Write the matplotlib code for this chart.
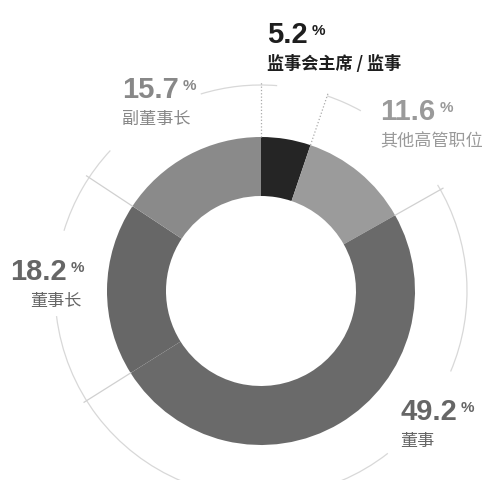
import matplotlib.pyplot as plt
import numpy as np
from matplotlib.patches import Arc

# Shares, clockwise from the top
values = [5.2, 11.6, 49.2, 18.2, 15.7]
numbers = ["5.2", "11.6", "49.2", "18.2", "15.7"]
names = ["监事会主席 / 监事", "其他高管职位", "董事", "董事长", "副董事长"]
colors = ["#252525", "#9b9b9b", "#6a6a6a", "#676767", "#8a8a8a"]
text_colors = ["#1e1e1e", "#9a9a9a", "#666666", "#666666", "#888888"]

W, H = 486, 480
cx, cy = 261, H - 291  # donut centre (pixels, y up)
r_out, r_in = 154, 95
r_arc = 206

fig = plt.figure(figsize=(W / 100, H / 100), dpi=100)
ax = fig.add_axes([0, 0, 1, 1])
ax.set_xlim(0, W)
ax.set_ylim(0, H)
ax.set_aspect("equal")
ax.axis("off")

ax.pie(values, colors=colors, startangle=90, counterclock=False,
       center=(cx, cy), radius=r_out,
       wedgeprops=dict(width=r_out - r_in, linewidth=0))
ax.set_xlim(0, W)
ax.set_ylim(0, H)

# thin guide arc around the donut, broken where the labels sit
# (angles clockwise from the top)
arc_pieces = [(-17, 4.5), (18.7, 29), (59, 113), (142, 263), (287, 313)]
for a1, a2 in arc_pieces:
    ax.add_patch(Arc((cx, cy), 2 * r_arc, 2 * r_arc, theta1=90 - a2, theta2=90 - a1,
                     color="#d8d8d8", lw=0.9))

# radial ticks at the slice boundaries
bounds = np.concatenate([[0], np.cumsum(values)[:-1]]) / sum(values) * 360
for i, b in enumerate(bounds):
    t = np.radians(90 - b)
    ls = ":" if i < 2 else "-"
    col = "#aaaaaa" if i < 2 else "#d0d0d0"
    ax.plot([cx + r_out * np.cos(t), cx + (r_arc + 3) * np.cos(t)],
            [cy + r_out * np.sin(t), cy + (r_arc + 3) * np.sin(t)],
            color=col, lw=0.9, ls=ls)

# label anchors: (x, number baseline, name baseline, name alignment, name x)
label_pos = [
    (267, 43, 69, "left", 267),
    (380, 120, 146, "left", 380),
    (400, 420, 446, "left", 400),
    (10, 280, 306, "right", 81),
    (122, 98, 124, "left", 122),
]

for i, (x, yn, ys, ha, xs) in enumerate(label_pos):
    num = ax.text(x, H - yn, numbers[i], fontsize=21, fontweight="bold",
                  family=["Liberation Sans", "DejaVu Sans"], color=text_colors[i],
                  ha="left", va="baseline")
    ax.annotate("%", xy=(1, 0.88), xycoords=num, xytext=(3, 0), textcoords="offset points",
                fontsize=11, fontweight="bold", family=["Liberation Sans", "DejaVu Sans"],
                color=text_colors[i], ha="left", va="top")
    ax.text(xs, H - ys, names[i], fontsize=12.3,
            fontweight="bold" if i == 0 else "normal",
            family=["Noto Sans CJK SC", "DejaVu Sans"], color=text_colors[i],
            ha=ha, va="baseline")

fig.savefig("out.png", dpi=100)
